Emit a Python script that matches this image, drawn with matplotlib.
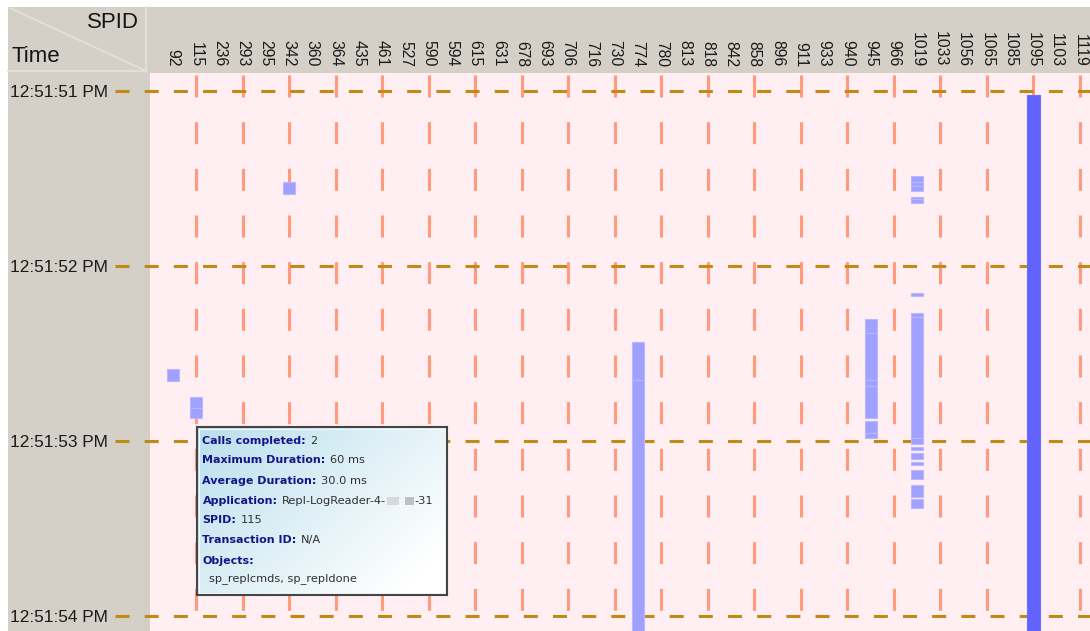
import numpy as np
import matplotlib
matplotlib.use("Agg")
import matplotlib.pyplot as plt
from matplotlib.transforms import blended_transform_factory
from matplotlib.patches import Rectangle

plt.rcParams['lines.scale_dashes'] = False

# ---------------- data ----------------
spids = [92, 115, 236, 293, 295, 342, 360, 364, 435, 461, 527, 590, 594, 615,
         631, 678, 693, 706, 716, 730, 774, 780, 813, 818, 842, 858, 896, 911,
         933, 940, 945, 966, 1019, 1033, 1056, 1065, 1085, 1095, 1103, 1119]

time_ticks = [0, 1, 2, 3]            # seconds after 12:51:51 PM
time_labels = ['12:51:51 PM', '12:51:52 PM', '12:51:53 PM', '12:51:54 PM']

# individual calls (seconds after 12:51:51 PM)
call_spid = [92, 115, 115, 342, 774, 774,
             945, 945, 945, 945, 945, 945,
             1019, 1019, 1019, 1019, 1019, 1019, 1019, 1019, 1019, 1019,
             1019, 1019, 1019, 1019, 1019]
call_start = [1.587, 1.749, 1.811, 0.518, 1.436, 1.651,
              1.305, 1.383, 1.651, 1.686, 1.886, 1.953,
              0.486, 0.518, 0.543, 0.604, 0.617, 1.153, 1.270, 1.290, 1.983,
              2.033, 2.067, 2.118, 2.166, 2.251, 2.333]
call_end = [1.655, 1.811, 1.869, 0.589, 1.651, 3.200,
            1.383, 1.651, 1.686, 1.870, 1.953, 1.985,
            0.518, 0.543, 0.570, 0.617, 0.638, 1.170, 1.290, 1.983, 2.017,
            2.051, 2.103, 2.137, 2.219, 2.318, 2.385]

long_spid = [1095]
long_start = [0.023]
long_end = [3.200]

tip_labels = ['Calls completed:', 'Maximum Duration:', 'Average Duration:',
              'Application:', 'SPID:', 'Transaction ID:', 'Objects:']
tip_values = ['2', '60 ms', '30.0 ms', 'Repl-LogReader-4-', '115', 'N/A', '']
tip_app_suffix = '-31'
tip_objects = 'sp_replcmds, sp_repldone'

# ---------------- figure ----------------
W, H = 1090, 631
fig = plt.figure(figsize=(W / 100, H / 100), dpi=100, facecolor='white')

bg = fig.add_axes([0, 0, 1, 1])
bg.set_xlim(0, W)
bg.set_ylim(H, 0)
bg.axis('off')
bg.add_patch(Rectangle((8, 7), W - 8, H - 7, facecolor='#D4D0C8', edgecolor='none'))
line_col = '#E4E1DB'
bg.plot([8, 146], [71, 71], color=line_col, lw=1.3)
bg.plot([146, 146], [7, 71], color=line_col, lw=1.3)
bg.plot([10, 146], [8, 71], color=line_col, lw=1.3)
bg.text(11, 57, 'Time', fontsize=16, ha='left', va='center',
        family='Liberation Sans', color='#141414')
bg.text(139, 22, 'SPID', fontsize=16, ha='right', va='center',
        family='Liberation Sans', color='#141414')

ax = fig.add_axes([150 / W, 0, (W - 150) / W, (H - 73) / H])
ax.set_facecolor('#FFEEF2')
for s in ax.spines.values():
    s.set_visible(False)

cols = np.arange(len(spids))
col_of = {s: i for i, s in enumerate(spids)}

# vertical orange dashed guides on every other column
ax.vlines(cols[1::2], -0.093, 3.2, colors='#FF9A7C', lw=2.2,
          linestyles=[(0, (15.84, 17.76))], zorder=1)

# horizontal dashed second lines (extend into the label column)
trans = blended_transform_factory(fig.transFigure, ax.transData)
ax.hlines(time_ticks, 115 / W, 1.0, transform=trans, colors='#C08A14', lw=2.2,
          linestyles=[(0, (10.1, 10.9))], clip_on=False, zorder=2)

# calls
cx = [col_of[s] for s in call_spid]
cs = np.array(call_start)
ce = np.array(call_end)
ax.bar(cx, ce - cs, bottom=cs, width=0.52, color='#A0A0FF',
       edgecolor='#B8B8FF', linewidth=0.8, zorder=3)
lx = [col_of[s] for s in long_spid]
ls_ = np.array(long_start)
le = np.array(long_end)
ax.bar(lx, le - ls_, bottom=ls_, width=0.52, color='#6262FF',
       edgecolor='#6C6CFF', linewidth=0.8, zorder=3)

ax.set_xticks(cols, [str(s) for s in spids])
ax.tick_params(axis='x', top=True, bottom=False, labeltop=True, labelbottom=False,
               length=0, pad=4.5, labelsize=11.3, labelrotation=270,
               labelcolor='#1A1A1A')
for t in ax.get_xticklabels():
    t.set_family('Liberation Sans')
ax.set_yticks(time_ticks, time_labels)
ax.tick_params(axis='y', length=0, pad=30, labelsize=12.4, labelcolor='#1A1A1A')
for t in ax.get_yticklabels():
    t.set_family('Liberation Sans')

ax.set_xlim(-0.9775, 39.43)
ax.set_ylim(3.0857, -0.1029)

# ---------------- tooltip ----------------
tx0, ty0, tw, th = 197, 427, 250, 168
tt = fig.add_axes([tx0 / W, 1 - (ty0 + th) / H, tw / W, th / H])
tt.set_xlim(0, tw)
tt.set_ylim(th, 0)
gx, gy = np.meshgrid(np.linspace(0, 1, 200), np.linspace(0, 1, 140))
g = np.clip(0.7 * gx + 0.5 * gy - 0.05, 0, 1)[..., None]
c0 = np.array([0.74, 0.88, 0.93])
c1 = np.array([1.0, 1.0, 1.0])
img = c0 * (1 - g) + c1 * g
tt.imshow(img, extent=(0, tw, th, 0), aspect='auto', interpolation='bilinear')
tt.set_xticks([])
tt.set_yticks([])
for s in tt.spines.values():
    s.set_color('#454545')
    s.set_linewidth(1.5)
tt.add_patch(Rectangle((1.8, 1.8), tw - 3.6, th - 3.6, facecolor='none',
                       edgecolor='#F4F8FA', lw=0.8))

baselines = [17, 36, 57, 77, 96, 116, 137]
app_val = None
for lab, val, yb in zip(tip_labels, tip_values, baselines):
    lt = tt.text(5.5, yb, lab, fontsize=8, fontweight='bold', color='#15158A',
                 ha='left', va='baseline')
    if val:
        vt = tt.annotate(val, xy=(1, 0), xycoords=lt, xytext=(3, 0),
                         textcoords='offset points', fontsize=8.2, color='#303030',
                         ha='left', va='bottom')
        if lab == 'Application:':
            app_val = vt
tt.text(12, 154, tip_objects, fontsize=8.2, color='#303030', ha='left', va='baseline')

fig.canvas.draw()
bb = app_val.get_window_extent()
inv = tt.transData.inverted()
x_end, y_bot = inv.transform((bb.x1, bb.y0))
_, y_top = inv.transform((bb.x1, bb.y1))
hgt = abs(y_bot - y_top) * 0.75
ymid = (y_bot + y_top) / 2
tt.add_patch(Rectangle((x_end + 1, ymid - hgt / 2), 12, hgt,
                       facecolor='#D6DADC', edgecolor='none'))
tt.add_patch(Rectangle((x_end + 19, ymid - hgt / 2), 9, hgt,
                       facecolor='#BCC0C2', edgecolor='none'))
tt.text(x_end + 29, y_bot, tip_app_suffix, fontsize=8.2, color='#303030',
        ha='left', va='bottom')

fig.savefig('out.png', dpi=100, facecolor='white')
